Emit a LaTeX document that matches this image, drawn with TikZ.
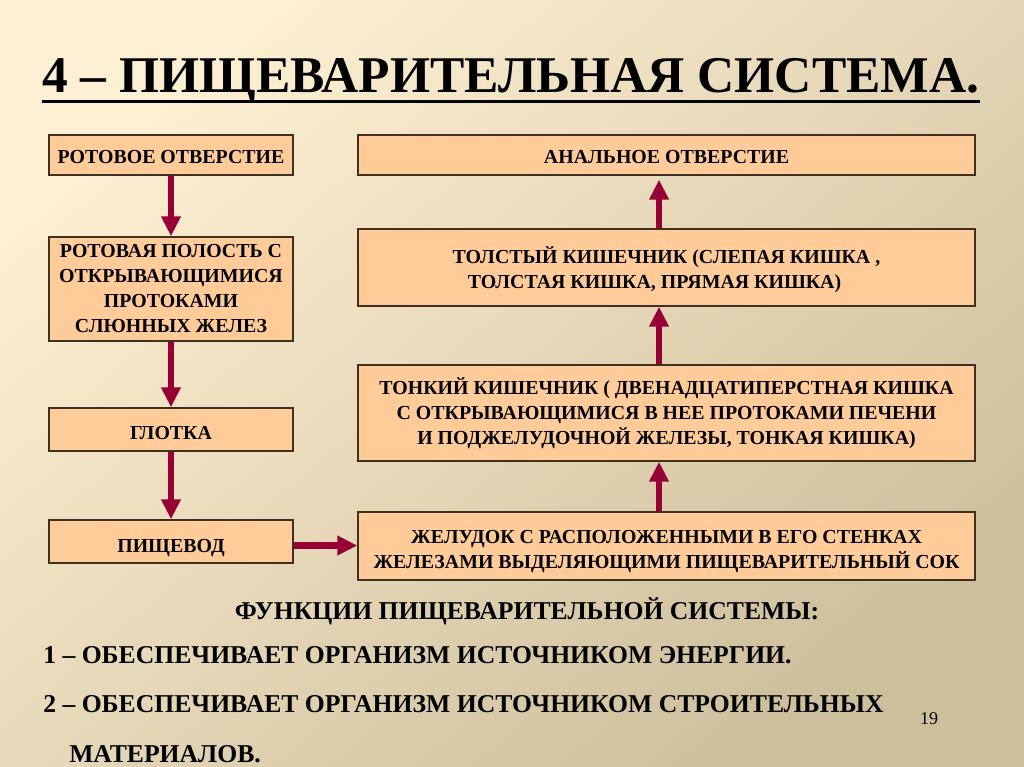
\documentclass[tikz,border=0pt]{standalone}
\usepackage{fontspec}
\setmainfont{Liberation Serif}
\usetikzlibrary{arrows.meta}

\definecolor{bgtop}{RGB}{253,240,210}
\definecolor{bgbot}{RGB}{205,190,156}
\definecolor{boxfill}{RGB}{255,204,153}
\definecolor{boxline}{RGB}{64,48,32}
\definecolor{arrowred}{RGB}{150,0,52}

\begin{document}
\begin{tikzpicture}[x=0.75pt, y=-0.75pt,
        organ/.style={rectangle, draw=boxline, line width=1.1pt, fill=boxfill,
                      align=center, inner xsep=2pt, inner ysep=1pt,
                      font=\fontsize{14.9}{18.75}\selectfont\bfseries},
        leftorgan/.style={organ, minimum width=183pt},
        rightorgan/.style={organ, minimum width=462.75pt},
        sink/.style={execute at begin node={\rule{0pt}{#1}}},
        flow/.style={draw=arrowred, line width=5pt,
                     -{Triangle[width=14pt,length=15pt]}},
        plain/.style={inner sep=0pt, anchor=base west,
                      font=\fontsize{19.25}{24}\selectfont\bfseries}]
      % background
      \shade[shading=axis, top color=bgtop, bottom color=bgbot, shading angle=40]
            (0,0) rectangle (1024,767);
      \useasboundingbox (0,0) rectangle (1024,767);

      % title
      \node[inner sep=0pt, anchor=base west,
            font=\fontsize{38.6}{40}\selectfont\bfseries] (title) at (42,93)
            {4 – ПИЩЕВАРИТЕЛЬНАЯ СИСТЕМА.};
      \draw[line width=2.25pt] ([yshift=-6pt]title.base west)
            -- ([yshift=-6pt]title.base east);

      % left column
      \node[leftorgan, sink=13pt, minimum height=30pt]    (mouth)  at (171,155)   {РОТОВОЕ ОТВЕРСТИЕ};
      \node[leftorgan, minimum height=78pt]    (cavity) at (171,289)
            {РОТОВАЯ ПОЛОСТЬ С\\ОТКРЫВАЮЩИМИСЯ\\ПРОТОКАМИ\\СЛЮННЫХ ЖЕЛЕЗ};
      \node[leftorgan, sink=15pt, minimum height=32.25pt] (throat) at (171,429.5) {ГЛОТКА};
      \node[leftorgan, sink=19pt, minimum height=32.25pt] (gullet) at (171,541.5) {ПИЩЕВОД};

      % right column
      \node[rightorgan, sink=13pt, minimum height=30pt]    (anus)    at (666.5,155)   {АНАЛЬНОЕ ОТВЕРСТИЕ};
      \node[rightorgan, minimum height=57.75pt] (large)   at (666.5,267.5)
            {\rule{0pt}{16pt}ТОЛСТЫЙ КИШЕЧНИК (СЛЕПАЯ КИШКА ,\\ \hspace*{-1.2em}ТОЛСТАЯ КИШКА, ПРЯМАЯ КИШКА)};
      \node[rightorgan, minimum height=72pt]    (small)   at (666.5,413)
            {ТОНКИЙ КИШЕЧНИК ( ДВЕНАДЦАТИПЕРСТНАЯ КИШКА\\
             С ОТКРЫВАЮЩИМИСЯ В НЕЕ ПРОТОКАМИ ПЕЧЕНИ\\
             И ПОДЖЕЛУДОЧНОЙ ЖЕЛЕЗЫ, ТОНКАЯ КИШКА)};
      \node[rightorgan, minimum height=51pt]  (stomach) at (666.5,546)
            {\rule{0pt}{17.5pt}ЖЕЛУДОК С РАСПОЛОЖЕННЫМИ В ЕГО СТЕНКАХ\\
             ЖЕЛЕЗАМИ ВЫДЕЛЯЮЩИМИ ПИЩЕВАРИТЕЛЬНЫЙ СОК};

      % arrows
      \draw[flow] (mouth)  -- (cavity);
      \draw[flow] (cavity) -- (throat);
      \draw[flow] (throat) -- (gullet);
      \draw[flow] ([yshift=-3pt]gullet.east) -- ([yshift=-3pt]gullet.east -| stomach.west);
      \draw[flow] ([xshift=-5.6pt]stomach.north) -- ([xshift=-5.6pt]small.south);
      \draw[flow] ([xshift=-5.6pt]small.north)   -- ([xshift=-5.6pt]large.south);
      \draw[flow] ([xshift=-5.6pt]large.north)   -- ([xshift=-5.6pt,yshift=-3pt]anus.south);

      % functions
      \node[plain, anchor=base] (functions) at (527,619) {ФУНКЦИИ ПИЩЕВАРИТЕЛЬНОЙ СИСТЕМЫ:};
      \node[plain] (energy)  at (43,663) {1 – ОБЕСПЕЧИВАЕТ ОРГАНИЗМ ИСТОЧНИКОМ ЭНЕРГИИ.};
      \node[plain] (build)   at (43,712) {2 – ОБЕСПЕЧИВАЕТ ОРГАНИЗМ ИСТОЧНИКОМ СТРОИТЕЛЬНЫХ};
      \node[plain] (build2)  at (69,762) {МАТЕРИАЛОВ.};
      \node[inner sep=0pt, font=\fontsize{13.5}{16}\selectfont] (page) at (929,719) {19};
    \end{tikzpicture}
\end{document}
